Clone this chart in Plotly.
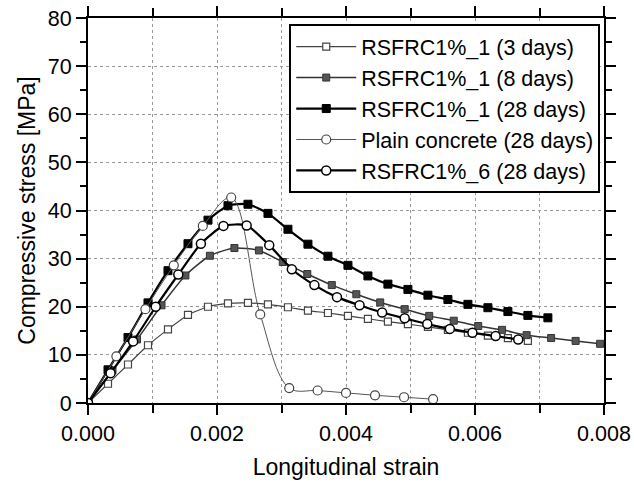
import plotly.graph_objects as go

# ---- data ----
strain_3d = [0, 0.00031, 0.00062, 0.00093, 0.00124, 0.00155, 0.00186, 0.00217, 0.00248, 0.00279,
             0.0031, 0.00341, 0.00372, 0.00403, 0.00434, 0.00465, 0.00496, 0.00527, 0.00558,
             0.00589, 0.0062, 0.00651, 0.00682]
stress_3d = [0, 4.0, 8.0, 12.0, 15.3, 18.3, 20.0, 20.7, 20.8, 20.5, 19.9, 19.2, 18.7, 18.1,
             17.5, 16.9, 16.4, 15.8, 15.2, 14.6, 14.0, 13.5, 12.9]

strain_8d = [0, 0.00038, 0.00076, 0.00114, 0.00151, 0.00189, 0.00227, 0.00265, 0.00302, 0.0034,
             0.00378, 0.00416, 0.00453, 0.00491, 0.00529, 0.00567, 0.00605, 0.00642, 0.0068,
             0.00718, 0.00756, 0.00794]
stress_8d = [0, 6.8, 13.2, 20.3, 26.5, 30.6, 32.2, 31.7, 29.3, 26.8, 24.5, 22.6, 20.9, 19.5,
             18.1, 17.1, 16.0, 15.2, 14.1, 13.5, 12.9, 12.3]

strain_28d = [0, 0.00031, 0.00062, 0.00093, 0.00124, 0.00155, 0.00186, 0.00217, 0.00248, 0.00279,
              0.0031, 0.00341, 0.00372, 0.00403, 0.00434, 0.00465, 0.00496, 0.00527, 0.00558,
              0.00589, 0.0062, 0.00651, 0.00682, 0.00713]
stress_28d = [0, 6.9, 13.6, 20.8, 27.5, 33.1, 38.0, 41.0, 41.3, 39.4, 36.1, 33.0, 30.5, 28.6,
              26.4, 24.7, 23.6, 22.4, 21.5, 20.5, 19.8, 19.0, 18.2, 17.7]

strain_plain = [0, 0.00044, 0.00089, 0.00133, 0.00178, 0.00222, 0.00267, 0.00312, 0.00356,
                0.004, 0.00445, 0.0049, 0.00535]
stress_plain = [0, 9.7, 19.5, 28.6, 36.8, 42.7, 18.4, 3.1, 2.6, 2.1, 1.6, 1.2, 0.8]

strain_6 = [0, 0.00035, 0.0007, 0.00105, 0.0014, 0.00175, 0.0021, 0.00246, 0.00281, 0.00316,
            0.00351, 0.00386, 0.00421, 0.00456, 0.00491, 0.00526, 0.00561, 0.00596, 0.00632,
            0.00667]
stress_6 = [0, 6.2, 12.8, 20.0, 26.7, 33.1, 36.8, 36.9, 32.8, 27.8, 24.5, 22.0, 20.3, 18.8,
            17.6, 16.4, 15.4, 14.6, 13.9, 13.2]

names = ["RSFRC1%_1 (3 days)", "RSFRC1%_1 (8 days)", "RSFRC1%_1 (28 days)",
         "Plain concrete (28 days)", "RSFRC1%_6 (28 days)"]

FONT = "Liberation Sans, Arial, sans-serif"

fig = go.Figure()

fig.add_trace(go.Scatter(
    x=strain_3d, y=stress_3d, name=names[0], mode="lines+markers",
    line=dict(color="#444444", width=1.2, shape="spline", smoothing=0.6),
    marker=dict(symbol="square", size=7, color="white", line=dict(color="#444444", width=1.2))))

fig.add_trace(go.Scatter(
    x=strain_8d, y=stress_8d, name=names[1], mode="lines+markers",
    line=dict(color="#333333", width=1.5, shape="spline", smoothing=0.6),
    marker=dict(symbol="square", size=7, color="#555555", line=dict(color="#333333", width=1))))

fig.add_trace(go.Scatter(
    x=strain_28d, y=stress_28d, name=names[2], mode="lines+markers",
    line=dict(color="black", width=2.2, shape="spline", smoothing=0.6),
    marker=dict(symbol="square", size=8, color="black", line=dict(color="black", width=1))))

fig.add_trace(go.Scatter(
    x=strain_plain, y=stress_plain, name=names[3], mode="lines+markers",
    line=dict(color="#555555", width=1, shape="spline", smoothing=1.0),
    marker=dict(symbol="circle", size=9, color="white", line=dict(color="#444444", width=1.2))))

fig.add_trace(go.Scatter(
    x=strain_6, y=stress_6, name=names[4], mode="lines+markers",
    line=dict(color="black", width=2.2, shape="spline", smoothing=0.6),
    marker=dict(symbol="circle", size=9, color="white", line=dict(color="black", width=1.5))))

axis_common = dict(
    showline=True, linecolor="black", linewidth=2, mirror="ticks",
    ticks="outside", ticklen=10, tickwidth=1.5, tickcolor="black",
    showgrid=True, gridcolor="#9a9a9a", griddash="dot", gridwidth=1,
    zeroline=False, automargin=False, ticklabeloverflow="allow",
    tickfont=dict(family=FONT, size=21.5, color="black"),
)

fig.update_xaxes(
    **axis_common, range=[0, 0.008], dtick=0.002, tick0=0, tickformat=".3f",
    minor=dict(dtick=0.001, ticks="outside", ticklen=8, tickcolor="black", tickwidth=1.5,
               showgrid=True, gridcolor="#9a9a9a", griddash="dot"),
    title=dict(text="Longitudinal strain", font=dict(family=FONT, size=23, color="black"),
               standoff=14),
)
fig.update_yaxes(
    **axis_common, range=[0, 80], dtick=10, tick0=0,
    minor=dict(dtick=5, ticks="outside", ticklen=6, tickcolor="black", tickwidth=1.5,
               showgrid=False),
    title=dict(text="Compressive stress [MPa]", font=dict(family=FONT, size=23, color="black"),
               standoff=6),
)

fig.update_layout(
    width=634, height=483,
    margin=dict(l=88, r=30, t=18, b=80),
    paper_bgcolor="white", plot_bgcolor="white",
    showlegend=True,
    legend=dict(x=0.39, y=0.984, xanchor="left", yanchor="top",
                bgcolor="white", bordercolor="black", borderwidth=2,
                font=dict(family=FONT, size=21.5, color="black"),
                itemwidth=60, tracegroupgap=0),
)

# remove the default page margin so the 634x483 figure fills the window exactly
fig.write_html(
    "out.html",
    config={"displayModeBar": False},
    post_script="document.body.style.margin='0';document.body.style.overflow='hidden';",
)
